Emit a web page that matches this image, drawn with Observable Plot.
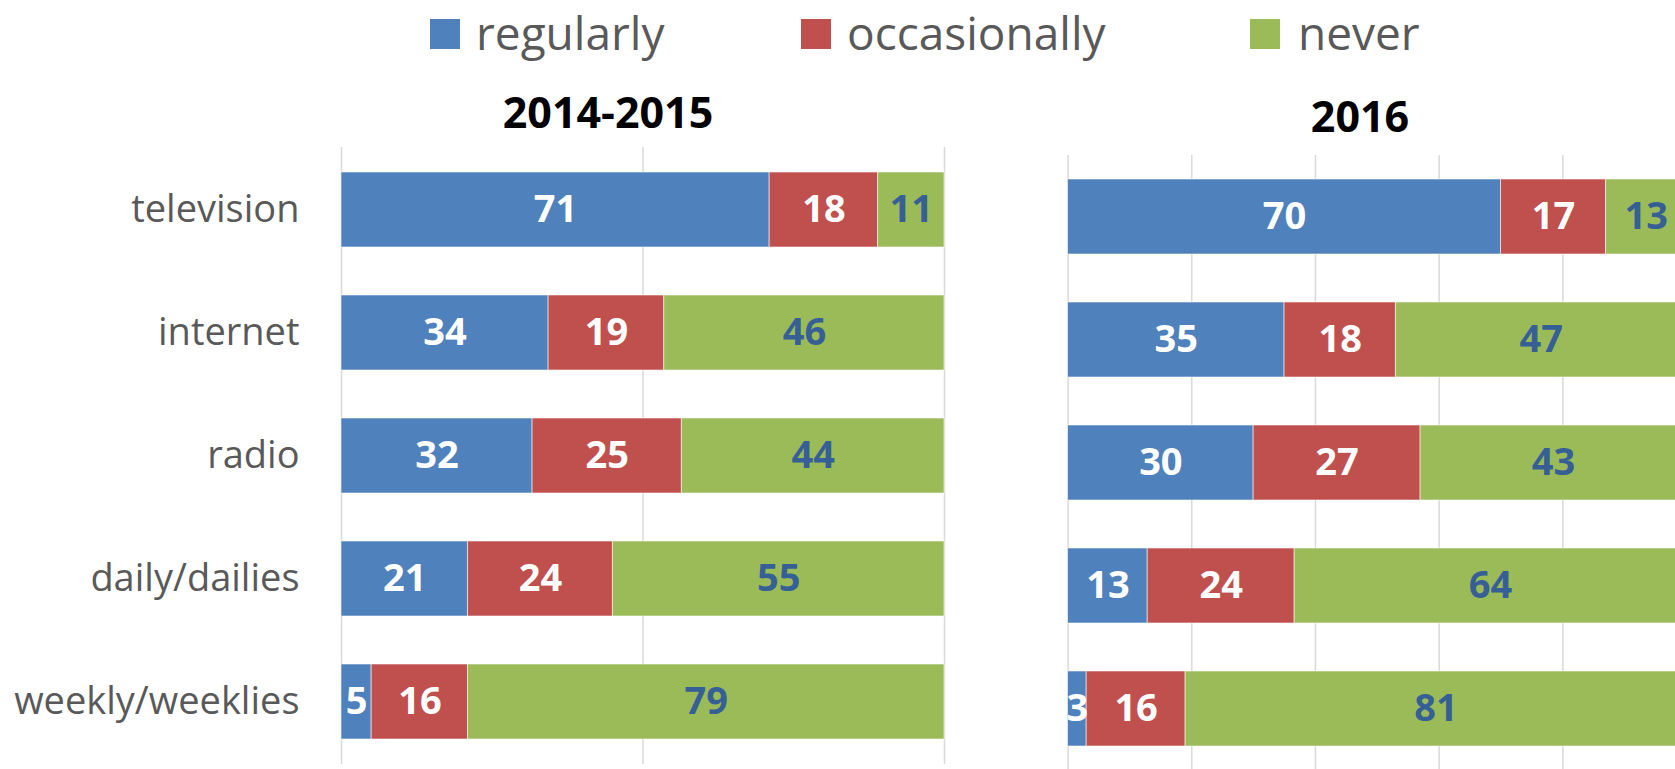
<!DOCTYPE html>
<html>
<head>
<meta charset="utf-8">
<script src="https://cdn.jsdelivr.net/npm/d3@7"></script>
<script src="https://cdn.jsdelivr.net/npm/@observablehq/plot@0.6"></script>
<style>
  html, body { margin: 0; padding: 0; background: #fff; overflow: hidden; }
  #wrap { position: relative; width: 1675px; height: 769px; overflow: hidden; font-family: "Open Sans", sans-serif; }
  .leg-sw { position: absolute; width: 30px; height: 30px; }
  .leg-tx { position: absolute; font-size: 46px; line-height: 46px; color: #595959; white-space: nowrap; }
  .title { position: absolute; font-size: 43px; line-height: 43px; font-weight: bold; color: #000; text-align: center; width: 400px; }
  svg.plot-panel { position: absolute; top: 0; max-width: none !important; }
</style>
</head>
<body>
<div id="wrap"></div>
<script>
// ---- data ----
const media = ["television", "internet", "radio", "daily/dailies", "weekly/weeklies"];
const series = ["regularly", "occasionally", "never"];
const seriesColors = ["#4F81BD", "#C0504D", "#9BBB59"];
const periods = ["2014-2015", "2016"];

const regularly2014 = [71, 34, 32, 21, 5];
const occasionally2014 = [18, 19, 25, 24, 16];
const never2014 = [11, 46, 44, 55, 79];

const regularly2016 = [70, 35, 30, 13, 3];
const occasionally2016 = [17, 18, 27, 24, 16];
const never2016 = [13, 47, 43, 64, 81];

const ticks2014 = [0, 0.5, 1];
const ticks2016 = [0, 0.2, 0.4, 0.6, 0.8, 1];

function buildTable(reg, occ, nev) {
  const cols = [reg, occ, nev];
  return media.flatMap((m, i) => series.map((s, j) => ({medium: m, freq: s, value: cols[j][i]})));
}
const table2014 = buildTable(regularly2014, occasionally2014, never2014);
const table2016 = buildTable(regularly2016, occasionally2016, never2016);

const wrap = document.getElementById("wrap");

// ---- legend ----
const legendPos = [{sw: 430, tx: 476}, {sw: 801, tx: 847}, {sw: 1250, tx: 1298}];
series.forEach((s, i) => {
  const sw = document.createElement("div");
  sw.className = "leg-sw";
  sw.style.left = legendPos[i].sw + "px";
  sw.style.top = "19px";
  sw.style.background = seriesColors[i];
  wrap.appendChild(sw);
  const tx = document.createElement("div");
  tx.className = "leg-tx";
  tx.style.left = legendPos[i].tx + "px";
  tx.style.top = "9px";
  tx.textContent = s;
  wrap.appendChild(tx);
});

// ---- titles ----
const titlePos = [{cx: 608, top: 90}, {cx: 1360, top: 94}];
periods.forEach((p, i) => {
  const t = document.createElement("div");
  t.className = "title";
  t.style.left = (titlePos[i].cx - 200) + "px";
  t.style.top = titlePos[i].top + "px";
  t.textContent = p;
  wrap.appendChild(t);
});

// ---- panels ----
function panel({data, left, width, marginLeft, marginTop, marginBottom, xRange, yRange, ticks, showY}) {
  const stackOpts = {x: "value", y: "medium", z: "freq", order: series, offset: "normalize"};
  const svg = Plot.plot({
    width, height: 769,
    marginLeft, marginTop, marginBottom, marginRight: 0,
    style: {fontFamily: "'Open Sans', sans-serif", color: "#595959", background: "transparent", overflow: "hidden"},
    x: {domain: [0, 1], range: xRange, axis: null},
    y: {domain: media, range: yRange, paddingInner: 0.39, paddingOuter: 0.195, axis: null, label: null},
    color: {domain: series, range: seriesColors},
    marks: [
      Plot.gridX(ticks, {stroke: "#d9d9d9", strokeOpacity: 1, strokeWidth: 1.5}),
      Plot.barX(data, Plot.stackX({...stackOpts, fill: "freq", stroke: "#ffffff", strokeWidth: 0.8, strokeOpacity: 0.7})),
      Plot.text(data, Plot.filter(d => d.freq !== "never",
        Plot.stackX({...stackOpts, text: "value", fill: "white", fontSize: 38, fontWeight: "bold"}))),
      Plot.text(data, Plot.filter(d => d.freq === "never",
        Plot.stackX({...stackOpts, text: "value", fill: "#365F96", fontSize: 38, fontWeight: "bold"}))),
      showY ? Plot.axisY({tickSize: 0, tickPadding: 42, fontSize: 38, label: null}) : null
    ]
  });
  svg.classList.add("plot-panel");
  svg.style.left = left + "px";
  wrap.appendChild(svg);
}

panel({data: table2014, left: 0, width: 1000, marginLeft: 341, marginTop: 147, marginBottom: 5,
       xRange: [341, 944], yRange: [148, 763], ticks: ticks2014, showY: true});
panel({data: table2016, left: 1000, width: 675, marginLeft: 67.6, marginTop: 155, marginBottom: 0,
       xRange: [67.6, 686], yRange: [154, 772], ticks: ticks2016, showY: false});
</script>
</body>
</html>
